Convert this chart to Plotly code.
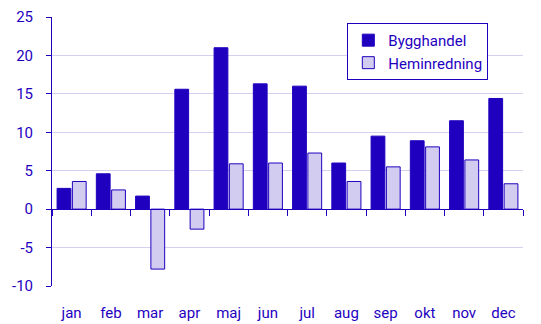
import plotly.graph_objects as go

months = ["jan", "feb", "mar", "apr", "maj", "jun", "jul", "aug", "sep", "okt", "nov", "dec"]
bygghandel = [2.7, 4.6, 1.7, 15.6, 21.0, 16.3, 16.0, 6.0, 9.5, 8.9, 11.5, 14.4]
heminredning = [3.6, 2.5, -7.8, -2.6, 5.9, 6.0, 7.3, 3.6, 5.5, 8.1, 6.4, 3.3]
y_ticks = [-10, -5, 0, 5, 10, 15, 20, 25]
y_ticktext = ["-10", "-5", "0", "5", "10", "15", "20", "25"]

dark = "#1f00bf"
light = "#d2cdf0"
grid = "#d3d0f0"
font = "Roboto"

fig = go.Figure()
fig.add_trace(go.Bar(x=months, y=bygghandel, name="Bygghandel",
                     marker=dict(color=dark, line=dict(color=dark, width=1)),
                     legendgroup="a"))
fig.add_trace(go.Bar(x=months, y=heminredning, name="Heminredning",
                     marker=dict(color=light, line=dict(color=dark, width=1)),
                     legendgroup="b"))
# invisible trace to carry the zero-line tick axis
fig.add_trace(go.Scatter(x=months, y=[0] * len(months), xaxis="x2", mode="none",
                         showlegend=False, hoverinfo="skip"))

ymin, ymax = -10, 25
fig.update_layout(
    width=541, height=324,
    margin=dict(l=52, r=18, t=17, b=38, autoexpand=False),
    paper_bgcolor="white", plot_bgcolor="white",
    font=dict(family=font, size=15, color=dark),
    barmode="group", bargap=0.22, bargroupgap=0.1,
    showlegend=True,
    legend=dict(x=0.627, y=0.978, xanchor="left", yanchor="top",
                bordercolor=dark, borderwidth=1, bgcolor="white",
                font=dict(family=font, size=15, color=dark),
                tracegroupgap=9, traceorder="normal"),
    xaxis=dict(type="category", categoryorder="array", categoryarray=months,
               showline=False, ticks="", showgrid=False, zeroline=False,
               automargin=False,
               tickfont=dict(family=font, size=15, color=dark),
               ticklabelstandoff=16),
    xaxis2=dict(type="category", categoryorder="array", categoryarray=months,
                overlaying="x", matches="x", anchor="free",
                position=(0 - ymin) / (ymax - ymin),
                showline=True, linecolor=dark, linewidth=1,
                ticks="outside", tickson="boundaries", ticklen=6, tickcolor=dark,
                showticklabels=False, showgrid=False, zeroline=False),
    yaxis=dict(range=[ymin, ymax], tickvals=y_ticks, ticktext=y_ticktext,
               showgrid=True, automargin=False,
               gridcolor=grid, gridwidth=1, zeroline=False,
               showline=True, linecolor=dark, linewidth=1,
               ticks="outside", ticklen=5, tickcolor=dark,
               tickfont=dict(family=font, size=15, color=dark),
               ticklabelstandoff=10),
)

fig.write_html("out.html")
